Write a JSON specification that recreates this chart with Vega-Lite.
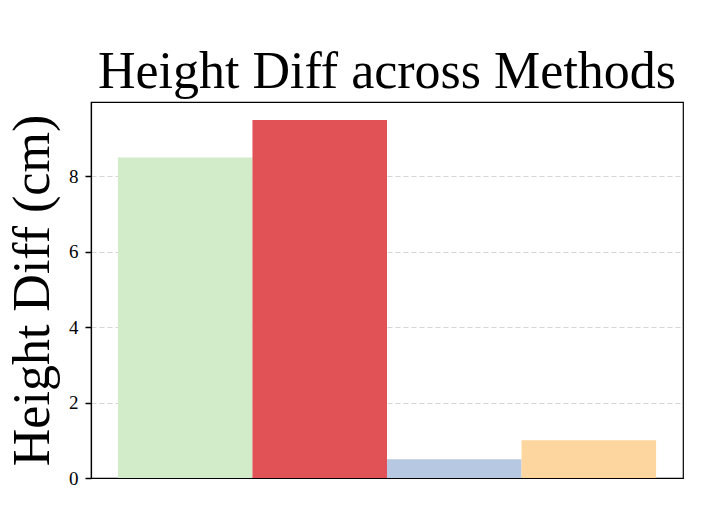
{
  "$schema": "https://vega.github.io/schema/vega-lite/v6.json",
  "autosize": "none",
  "width": 592,
  "height": 376,
  "padding": {"left": 91, "top": 102, "right": 35, "bottom": 44},
  "background": "white",
  "title": {
    "text": "Height Diff across Methods",
    "font": "Liberation Serif",
    "fontSize": 52,
    "fontWeight": "normal",
    "color": "black",
    "anchor": "middle",
    "offset": 3
  },
  "config": {
    "view": {"stroke": "black", "strokeWidth": 1.2},
    "axis": {"domainColor": "black", "tickColor": "black", "labelColor": "black", "titleColor": "black"}
  },
  "data": {
    "values": [
      {"method": "A", "diff": 8.5},
      {"method": "B", "diff": 9.5},
      {"method": "C", "diff": 0.5},
      {"method": "D", "diff": 1.0}
    ]
  },
  "mark": {"type": "bar"},
  "encoding": {
    "x": {
      "field": "method",
      "type": "nominal",
      "sort": null,
      "scale": {"paddingInner": 0, "paddingOuter": 0.2},
      "axis": {"labels": false, "ticks": false, "title": null, "domain": true, "domainWidth": 1.2}
    },
    "y": {
      "field": "diff",
      "type": "quantitative",
      "scale": {"domain": [0, 9.975], "nice": false},
      "axis": {
        "values": [0, 2, 4, 6, 8],
        "title": "Height Diff (cm)",
        "titleFont": "Liberation Serif",
        "titleFontSize": 52,
        "titleFontWeight": "normal",
        "titlePadding": 9,
        "labelFont": "Liberation Serif",
        "labelFontSize": 19,
        "labelPadding": 7,
        "tickSize": 6,
        "tickWidth": 1.5,
        "domain": true,
        "domainWidth": 1.2,
        "grid": true,
        "gridDash": [5, 3],
        "gridColor": "#cccccc",
        "gridWidth": 0.8
      }
    },
    "color": {
      "field": "method",
      "type": "nominal",
      "scale": {"domain": ["A", "B", "C", "D"], "range": ["#d2ecca", "#e05256", "#b7c9e2", "#fdd59e"]},
      "legend": null
    },
    "opacity": {"value": 1}
  }
}
